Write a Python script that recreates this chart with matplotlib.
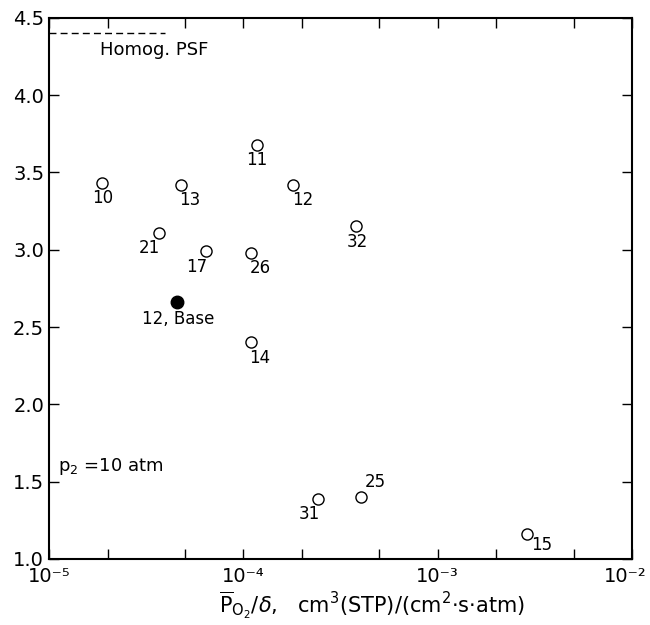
import numpy as np
import matplotlib
matplotlib.use("Agg")
import matplotlib.pyplot as plt
import matplotlib.transforms as mtransforms

# runs: permeance (x), y value, label
run_labels = ['10', '13', '11', '12', '21', '17', '26', '14', '32', '31', '25', '15']
perm = [1.88e-5, 4.76e-5, 1.17e-4, 1.81e-4, 3.68e-5, 6.4e-5, 1.10e-4, 1.09e-4,
        3.79e-4, 2.41e-4, 4.02e-4, 2.88e-3]
yval = [3.43, 3.42, 3.68, 3.42, 3.11, 2.99, 2.98, 2.40, 3.15, 1.39, 1.40, 1.16]

base_label = '12, Base'
base_perm = 4.57e-5
base_y = 2.66

homog_y = 4.40
homog_x = [1e-5, 3.95e-5]

x_ticks = [1e-5, 1e-4, 1e-3, 1e-2]
x_ticklabels = ['10⁻⁵', '10⁻⁴', '10⁻³', '10⁻²']
y_ticks = [1.0, 1.5, 2.0, 2.5, 3.0, 3.5, 4.0, 4.5]

# label offsets in points (dx, dy, ha)
offsets = {
    '10': (0, -11, 'center'), '13': (-1, -11, 'left'), '11': (0, -11, 'center'),
    '12': (-1, -11, 'left'), '21': (1, -11, 'right'), '17': (1, -11, 'right'),
    '26': (-1, -11, 'left'), '14': (-1, -11, 'left'), '32': (1, -11, 'center'),
    '31': (2, -11, 'right'), '25': (3, 11, 'left'), '15': (3, -8, 'left'),
}

plt.rcParams['font.family'] = ['DejaVu Sans']
fig = plt.figure(figsize=(6.5, 6.25), dpi=100)
ax = fig.add_axes([0.0754, 0.1056, 0.897, 0.8661])

ax.plot(perm, yval, 'o', ms=8, mfc='white', mec='black', mew=1.0)
ax.plot([base_perm], [base_y], 'o', ms=9, color='black')

for lab, x, y in zip(run_labels, perm, yval):
    dx, dy, ha = offsets[lab]
    ax.annotate(lab, (x, y), xytext=(dx, dy), textcoords='offset points',
                ha=ha, va='center', fontsize=12)
ax.annotate(base_label, (base_perm, base_y), xytext=(1, -12),
            textcoords='offset points', ha='center', va='center', fontsize=12)

ax.plot(homog_x, [homog_y, homog_y], color='black', ls=(0, (5, 3)), lw=1.0)
ax.text(1.83e-5, 4.29, 'Homog. PSF', fontsize=13, va='center', ha='left')
ax.text(1.11e-5, 1.60, r'p$_2$ =10 atm', fontsize=13, va='center', ha='left')

ax.set_xscale('log')
ax.set_xlim(1e-5, 1e-2)
ax.set_ylim(1.0, 4.5)
ax.set_xticks(x_ticks)
ax.set_xticklabels(x_ticklabels)
minor = [m * 10.0 ** e for e in (-5, -4, -3) for m in (2, 5)]
ax.set_xticks(minor, minor=True)
ax.xaxis.set_minor_formatter(plt.NullFormatter())
ax.set_yticks(y_ticks)
ax.set_yticklabels(['%.1f' % v for v in y_ticks])

ax.tick_params(which='both', direction='in', top=True, right=True,
               length=7, width=1.0, labelsize=14)
ax.tick_params(axis='x', pad=6)
for s in ax.spines.values():
    s.set_linewidth(1.5)

# nudge the last x label so it stays inside the picture
last = ax.get_xticklabels()[-1]
last.set_transform(last.get_transform() +
                   mtransforms.ScaledTranslation(-5 / 72, 0, fig.dpi_scale_trans))

fig.text(372 / 650, 1 - 605 / 625,
         r'$\overline{\mathrm{P}}_{\mathrm{O_2}}/\delta$,   cm$^3$(STP)/(cm$^2$$\cdot$s$\cdot$atm)',
         fontsize=15, ha='center', va='center')

fig.savefig('out.png', dpi=100)
